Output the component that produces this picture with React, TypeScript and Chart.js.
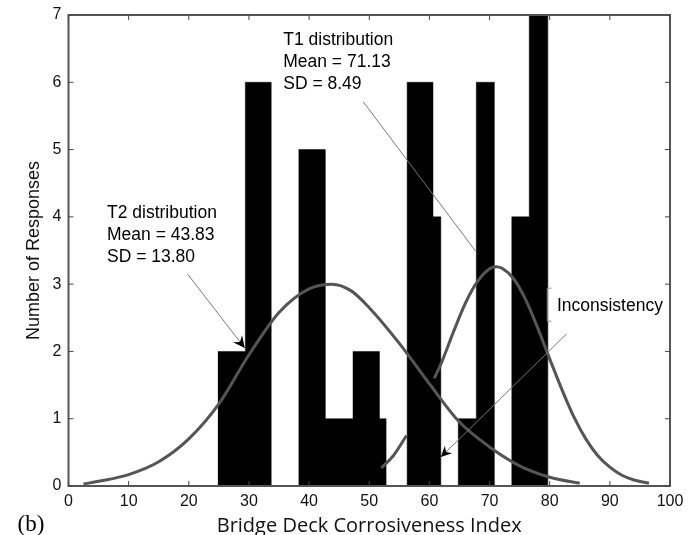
import React, { useEffect, useRef } from "react";
import { Chart, registerables } from "chart.js";

Chart.register(...registerables);

// Histogram (step) edges and the count that holds from each edge to the next
const binEdges = [24.8, 29.4, 33.7, 38.3, 42.7, 47.3, 51.7, 52.8, 56.3, 60.6, 61.9, 64.8, 67.8, 70.8, 73.7, 76.6, 79.7];
const binCounts = [2, 6, 0, 5, 1, 2, 1, 0, 6, 4, 0, 1, 6, 0, 4, 7, 0];

// T2 fitted curve
const t2X = [2.5, 5, 10, 15, 20, 25, 30, 35, 40, 43.8, 47, 50, 55, 60, 65, 70, 75, 80, 85];
const t2Y = [0.03, 0.07, 0.17, 0.36, 0.7, 1.22, 1.95, 2.58, 2.93, 3.0, 2.9, 2.65, 2.12, 1.52, 0.95, 0.58, 0.3, 0.13, 0.04];

// T1 fitted curve (gap where it is hidden)
const t1X = [52, 54, 56.2, 58.5, 60.8, 62, 64, 66, 68, 70, 71.1, 72, 74, 76, 78, 80, 82, 84, 86, 88, 90, 92, 94, 96.5];
const t1Y = [0.27, 0.45, 0.75, null, 1.6, 1.83, 2.29, 2.72, 3.04, 3.23, 3.26, 3.24, 3.08, 2.77, 2.35, 1.89, 1.44, 1.03, 0.7, 0.45, 0.28, 0.16, 0.09, 0.04];

const xTicks = [0, 10, 20, 30, 40, 50, 60, 70, 80, 90, 100];
const yTicks = [0, 1, 2, 3, 4, 5, 6, 7];

const xTitle = "Bridge Deck Corrosiveness Index";
const yTitle = "Number of Responses";
const panelLabel = "(b)";
const t1Lines = ["T1 distribution", "Mean = 71.13", "SD = 8.49"];
const t2Lines = ["T2 distribution", "Mean = 43.83", "SD = 13.80"];
const inconsistencyLabel = "Inconsistency";

function arrowHead(ctx: CanvasRenderingContext2D, x0: number, y0: number, x1: number, y1: number, size: number) {
  const a = Math.atan2(y1 - y0, x1 - x0);
  ctx.beginPath();
  ctx.moveTo(x1, y1);
  ctx.lineTo(x1 - size * Math.cos(a - 0.45), y1 - size * Math.sin(a - 0.45));
  ctx.lineTo(x1 - size * 0.6 * Math.cos(a), y1 - size * 0.6 * Math.sin(a));
  ctx.lineTo(x1 - size * Math.cos(a + 0.45), y1 - size * Math.sin(a + 0.45));
  ctx.closePath();
  ctx.fillStyle = "#000";
  ctx.fill();
}

const decorPlugin = {
  id: "decor",
  afterDraw(chart: any) {
    const { ctx, chartArea: ca, scales } = chart;
    const xs = scales.x;
    const ys = scales.y;
    const px = (v: number) => xs.getPixelForValue(v);
    const py = (v: number) => ys.getPixelForValue(v);
    ctx.save();
    // box
    ctx.strokeStyle = "#555";
    ctx.lineWidth = 2;
    ctx.strokeRect(ca.left, ca.top, ca.right - ca.left, ca.bottom - ca.top);
    // inward ticks
    ctx.lineWidth = 1;
    ctx.strokeStyle = "#444";
    xTicks.forEach((t) => {
      const x = px(t);
      ctx.beginPath();
      ctx.moveTo(x, ca.bottom);
      ctx.lineTo(x, ca.bottom - 5);
      ctx.moveTo(x, ca.top);
      ctx.lineTo(x, ca.top + 5);
      ctx.stroke();
    });
    yTicks.forEach((t) => {
      const y = py(t);
      ctx.beginPath();
      ctx.moveTo(ca.left, y);
      ctx.lineTo(ca.left + 5, y);
      ctx.moveTo(ca.right, y);
      ctx.lineTo(ca.right - 5, y);
      ctx.stroke();
    });

    // annotations
    ctx.fillStyle = "#000";
    ctx.font = "17.5px 'Liberation Sans', Arial, sans-serif";
    ctx.textBaseline = "middle";
    ctx.textAlign = "left";
    t1Lines.forEach((s, i) => ctx.fillText(s, px(35.7), py(6.63) + i * 22));
    t2Lines.forEach((s, i) => ctx.fillText(s, px(6.4), py(4.05) + i * 22));
    ctx.fillText(inconsistencyLabel, px(81.2), py(2.68));

    // T2 arrow
    ctx.strokeStyle = "#777";
    ctx.lineWidth = 1;
    let x0 = px(19.8), y0 = py(3.15), x1 = px(29.3), y1 = py(2.05);
    ctx.beginPath();
    ctx.moveTo(x0, y0);
    ctx.lineTo(x1, y1);
    ctx.stroke();
    arrowHead(ctx, x0, y0, x1, y1, 13);

    // T1 line
    ctx.beginPath();
    ctx.moveTo(px(49), py(5.71));
    ctx.lineTo(px(67.7), py(3.49));
    ctx.stroke();

    // Inconsistency arrow
    x0 = px(82.8); y0 = py(2.26); x1 = px(61.9); y1 = py(0.43);
    ctx.beginPath();
    ctx.moveTo(x0, y0);
    ctx.lineTo(x1, y1);
    ctx.stroke();
    arrowHead(ctx, x0, y0, x1, y1, 12);

    // bracket by the Inconsistency label
    ctx.strokeStyle = "#999";
    ctx.beginPath();
    ctx.moveTo(px(80.3), py(2.94));
    ctx.lineTo(px(79.6), py(2.94));
    ctx.lineTo(px(79.6), py(2.45));
    ctx.lineTo(px(80.3), py(2.45));
    ctx.stroke();

    // panel label
    ctx.fillStyle = "#000";
    ctx.font = "23px 'Liberation Serif', 'Times New Roman', serif";
    ctx.textAlign = "left";
    ctx.textBaseline = "middle";
    ctx.fillText(panelLabel, ca.left - 51, ca.bottom + 39);
    ctx.restore();
  },
};

export default function App() {
  const ref = useRef<HTMLCanvasElement | null>(null);
  useEffect(() => {
    if (!ref.current) return;
    const histPoints = binEdges.map((x, i) => ({ x, y: binCounts[i] }));
    const t2Points = t2X.map((x, i) => ({ x, y: t2Y[i] }));
    const t1Points = t1X.map((x, i) => ({ x, y: t1Y[i] }));
    const chart = new Chart(ref.current, {
      type: "line",
      data: {
        datasets: [
          {
            label: "T2",
            data: t2Points as any,
            borderColor: "#555",
            borderWidth: 3,
            pointRadius: 0,
            cubicInterpolationMode: "monotone",
            fill: false,
            order: 1,
          },
          {
            label: "T1",
            data: t1Points as any,
            borderColor: "#555",
            borderWidth: 3,
            pointRadius: 0,
            cubicInterpolationMode: "monotone",
            spanGaps: false,
            fill: false,
            order: 1,
          },
          {
            label: "Responses",
            data: histPoints as any,
            stepped: "before",
            borderColor: "#000",
            borderWidth: 0.5,
            backgroundColor: "#000",
            pointRadius: 0,
            fill: "origin",
            order: 2,
          },
        ],
      },
      options: {
        animation: false,
        responsive: false,
        layout: { padding: { left: 19, right: 24, top: 7, bottom: 0 } },
        plugins: { legend: { display: false }, tooltip: { enabled: false } },
        scales: {
          x: {
            type: "linear",
            min: 0,
            max: 100,
            grid: { display: false, drawTicks: false },
            border: { display: false },
            afterBuildTicks: (axis: any) => {
              axis.ticks = xTicks.map((v) => ({ value: v }));
            },
            ticks: {
              autoSkip: false,
              maxRotation: 0,
              padding: 8,
              color: "#111",
              font: { family: "'Liberation Sans', Arial, sans-serif", size: 16, lineHeight: 1.0 },
            },
            title: {
              display: true,
              text: xTitle,
              color: "#111",
              padding: { top: 0, bottom: 1 },
              font: { family: "'Open Sans', sans-serif", size: 20, lineHeight: 0.8 },
            },
          },
          y: {
            type: "linear",
            min: 0,
            max: 7,
            grid: { display: false, drawTicks: false },
            border: { display: false },
            afterBuildTicks: (axis: any) => {
              axis.ticks = yTicks.map((v) => ({ value: v }));
            },
            ticks: {
              padding: 7,
              color: "#111",
              font: { family: "'Liberation Sans', Arial, sans-serif", size: 16, lineHeight: 1.0 },
            },
            title: {
              display: true,
              text: yTitle,
              color: "#111",
              padding: { top: 4, bottom: 1 },
              font: { family: "'Liberation Sans', Arial, sans-serif", size: 18 },
            },
          },
        },
      },
      plugins: [decorPlugin],
    });
    return () => chart.destroy();
  }, []);
  return (
    <div style={{ position: "absolute", left: 0, top: 0, width: 694, height: 535, background: "#fff" }}>
      <canvas ref={ref} width={694} height={535} />
    </div>
  );
}
